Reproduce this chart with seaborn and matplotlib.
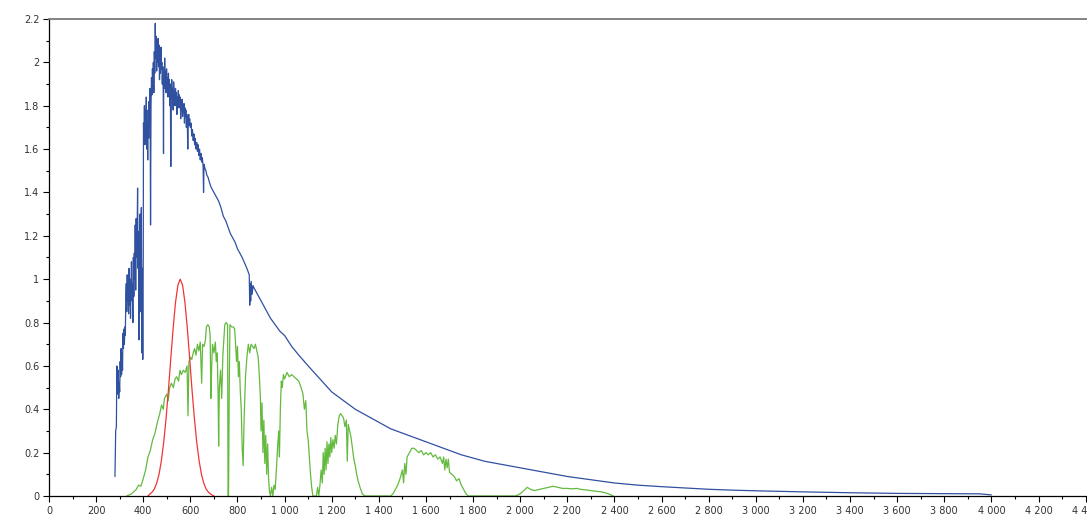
import numpy as np
import pandas as pd
import matplotlib
matplotlib.use("Agg")
import matplotlib.pyplot as plt
import seaborn as sns
from matplotlib.ticker import MultipleLocator, FuncFormatter

# ====================== DATA ======================
# blue: solar spectrum outside the atmosphere
blue_nm = [280, 283, 286, 288, 290, 292, 294, 296, 298, 300, 302, 304, 306, 308, 310, 312, 314, 316, 318, 320,
           322, 324, 326, 328, 330, 332, 334, 336, 338, 340, 342, 344, 346, 348, 350, 352, 354, 356, 358, 360,
           362, 364, 366, 368, 370, 372, 374, 376, 378, 380, 382, 384, 386, 388, 390, 392, 394, 396, 398, 400,
           401, 403, 405, 407, 409, 411, 413, 415, 417, 419, 421, 423, 425, 427, 429, 431, 433, 435, 437, 439,
           441, 443, 445, 447, 449, 451, 453, 455, 457, 459, 461, 463, 465, 467, 469, 471, 473, 475, 477, 479,
           481, 483, 485, 486, 487, 489, 491, 493, 495, 497, 499, 501, 503, 505, 507, 509, 511, 513, 515, 517,
           519, 521, 523, 525, 527, 529, 531, 533, 535, 537, 539, 541, 543, 545, 547, 549, 551, 553, 555, 557,
           559, 561, 563, 565, 567, 569, 571, 573, 575, 577, 579, 581, 583, 585, 587, 589, 591, 593, 595, 597,
           600, 603, 606, 609, 612, 615, 618, 621, 624, 627, 630, 633, 636, 639, 642, 645, 648, 651, 654, 656,
           658, 662, 666, 670, 675, 680, 686, 690, 695, 700, 710, 720, 730, 740, 750, 760, 770, 780, 790, 800,
           820, 840, 850, 852, 854, 856, 858, 862, 866, 870, 880, 900, 920, 940, 960, 980, 1000, 1030, 1060, 1100,
           1150, 1200, 1250, 1300, 1350, 1400, 1450, 1500, 1550, 1600, 1650, 1700, 1750, 1800, 1850, 1900, 1950,
           2000, 2100, 2200, 2300, 2400, 2500, 2600, 2700, 2800, 2900, 3000, 3200, 3400, 3600, 3800, 3950, 4000]
blue_val = [0.09, 0.30, 0.32, 0.60, 0.55, 0.47, 0.58, 0.45, 0.52, 0.48, 0.62, 0.55, 0.68, 0.56, 0.66, 0.58, 0.75, 0.68, 0.77, 0.70,
            0.78, 0.74, 0.92, 0.98, 0.85, 1.02, 0.90, 0.96, 0.84, 1.05, 0.88, 1.00, 0.82, 0.95, 1.08, 0.90, 0.98, 0.80, 1.10, 0.92,
            1.12, 1.00, 1.25, 0.95, 1.28, 1.10, 1.20, 1.42, 1.05, 1.22, 0.72, 1.15, 1.30, 0.85, 1.25, 1.33, 0.66, 1.05, 0.63, 1.10,
            1.72, 1.65, 1.80, 1.62, 1.78, 1.70, 1.84, 1.60, 1.72, 1.55, 1.78, 1.65, 1.82, 1.70, 1.88, 1.25, 1.80, 1.93, 1.85, 1.97,
            1.90, 2.00, 1.86, 2.05, 1.95, 2.18, 2.02, 2.12, 1.96, 2.10, 2.00, 2.11, 1.98, 2.08, 1.92, 2.05, 1.95, 2.07, 1.97, 2.00,
            1.90, 1.98, 1.85, 1.58, 1.93, 1.88, 2.02, 1.90, 1.96, 1.86, 1.97, 1.88, 1.93, 1.84, 1.95, 1.87, 1.92, 1.80, 1.90, 1.52,
            1.85, 1.92, 1.83, 1.88, 1.78, 1.91, 1.85, 1.87, 1.80, 1.88, 1.82, 1.86, 1.76, 1.84, 1.80, 1.87, 1.79, 1.85, 1.81, 1.84,
            1.74, 1.82, 1.78, 1.83, 1.75, 1.80, 1.77, 1.81, 1.72, 1.79, 1.75, 1.78, 1.70, 1.76, 1.73, 1.60, 1.72, 1.76, 1.71, 1.74,
            1.70, 1.72, 1.66, 1.69, 1.64, 1.67, 1.62, 1.65, 1.60, 1.63, 1.59, 1.62, 1.57, 1.60, 1.55, 1.58, 1.54, 1.56, 1.52, 1.40,
            1.53, 1.51, 1.50, 1.48, 1.47, 1.45, 1.43, 1.42, 1.41, 1.40, 1.38, 1.36, 1.33, 1.29, 1.27, 1.24, 1.21, 1.19, 1.17, 1.14,
            1.10, 1.05, 1.02, 0.88, 0.98, 0.90, 0.99, 0.93, 0.97, 0.96, 0.94, 0.90, 0.86, 0.82, 0.79, 0.76, 0.74, 0.69, 0.65, 0.60,
            0.54, 0.48, 0.44, 0.40, 0.37, 0.34, 0.31, 0.29, 0.27, 0.25, 0.23, 0.21, 0.19, 0.175, 0.16, 0.15, 0.14,
            0.13, 0.11, 0.09, 0.075, 0.06, 0.05, 0.043, 0.037, 0.031, 0.027, 0.024, 0.019, 0.015, 0.012, 0.011, 0.01, 0.005]

# green: spectrum at ground level
green_nm = [330, 350, 370, 380, 390, 400, 410, 420, 430, 440, 450, 460, 470, 478, 485, 490, 500, 506, 512, 520,
            528, 535, 542, 550, 556, 562, 570, 578, 586, 590, 594, 600, 606, 612, 618, 624, 630, 636, 642, 648,
            652, 658, 664, 668, 674, 680, 684, 687, 690, 694, 700, 706, 710, 714, 718, 720, 723, 728, 733, 738,
            742, 746, 752, 758, 760, 762, 765, 768, 775, 782, 788, 792, 796, 800, 804, 808, 812, 816, 820, 824,
            828, 834, 840, 846, 852, 858, 864, 870, 876, 882, 888, 893, 897, 900, 904, 908, 912, 916, 920, 924,
            928, 932, 936, 940, 945, 950, 955, 960, 965, 970, 975, 978, 982, 986, 990, 995, 1000, 1010, 1020, 1030,
            1040, 1050, 1060, 1070, 1078, 1084, 1090, 1095, 1100, 1105, 1110, 1115, 1120, 1135, 1140, 1145, 1150, 1155, 1160, 1164,
            1168, 1172, 1176, 1180, 1184, 1188, 1192, 1196, 1200, 1205, 1210, 1215, 1220, 1226, 1232, 1238, 1244, 1250, 1256, 1262,
            1266, 1270, 1276, 1282, 1288, 1294, 1300, 1306, 1312, 1320, 1330, 1340, 1450, 1460, 1470, 1480, 1490, 1500, 1505, 1510,
            1515, 1520, 1530, 1540, 1550, 1560, 1570, 1580, 1590, 1600, 1610, 1620, 1630, 1640, 1650, 1660, 1670, 1675, 1680, 1685,
            1690, 1695, 1700, 1710, 1720, 1730, 1740, 1750, 1760, 1770, 1780, 1980, 2000, 2020, 2030, 2045, 2060, 2080, 2100, 2120,
            2140, 2160, 2180, 2200, 2220, 2240, 2260, 2280, 2300, 2320, 2340, 2360, 2380, 2395]
green_val = [0.0, 0.01, 0.03, 0.05, 0.045, 0.08, 0.12, 0.18, 0.21, 0.26, 0.29, 0.34, 0.38, 0.42, 0.40, 0.45, 0.47, 0.44, 0.50, 0.52,
             0.50, 0.54, 0.55, 0.53, 0.58, 0.56, 0.58, 0.57, 0.60, 0.37, 0.62, 0.64, 0.63, 0.66, 0.68, 0.65, 0.70, 0.67, 0.71, 0.52,
             0.70, 0.69, 0.72, 0.78, 0.79, 0.78, 0.74, 0.45, 0.58, 0.70, 0.66, 0.71, 0.62, 0.66, 0.45, 0.23, 0.50, 0.58, 0.45, 0.65,
             0.72, 0.79, 0.80, 0.79, 0.0, 0.0, 0.50, 0.79, 0.78, 0.78, 0.77, 0.70, 0.62, 0.69, 0.55, 0.62, 0.48, 0.40, 0.22, 0.14,
             0.35, 0.55, 0.64, 0.70, 0.66, 0.70, 0.69, 0.68, 0.70, 0.67, 0.64, 0.55, 0.46, 0.30, 0.43, 0.20, 0.35, 0.15, 0.28, 0.10,
             0.24, 0.08, 0.02, 0.0, 0.04, 0.0, 0.05, 0.03, 0.12, 0.22, 0.30, 0.18, 0.40, 0.53, 0.50, 0.56, 0.54, 0.57, 0.55, 0.56,
             0.55, 0.54, 0.53, 0.50, 0.47, 0.40, 0.44, 0.30, 0.26, 0.18, 0.10, 0.04, 0.0, 0.0, 0.04, 0.0, 0.05, 0.12, 0.06, 0.20,
             0.10, 0.22, 0.12, 0.25, 0.15, 0.24, 0.18, 0.27, 0.20, 0.26, 0.22, 0.28, 0.24, 0.33, 0.37, 0.38, 0.37, 0.36, 0.32, 0.35,
             0.16, 0.33, 0.30, 0.27, 0.22, 0.17, 0.14, 0.10, 0.07, 0.04, 0.01, 0.0, 0.0, 0.01, 0.03, 0.05, 0.08, 0.12, 0.06, 0.15,
             0.10, 0.18, 0.20, 0.22, 0.22, 0.21, 0.20, 0.21, 0.19, 0.20, 0.19, 0.20, 0.18, 0.19, 0.17, 0.18, 0.15, 0.18, 0.12, 0.17,
             0.13, 0.17, 0.11, 0.10, 0.09, 0.07, 0.08, 0.05, 0.03, 0.01, 0.0, 0.0, 0.01, 0.03, 0.04, 0.03, 0.025, 0.03, 0.035, 0.04,
             0.045, 0.04, 0.035, 0.035, 0.033, 0.035, 0.03, 0.028, 0.025, 0.022, 0.02, 0.015, 0.008, 0.0]

# red: eye sensitivity
red_nm = [420, 427, 437, 447, 457, 467, 477, 487, 497, 507, 517, 527, 537, 547, 557,
          567, 577, 587, 597, 607, 617, 627, 637, 647, 657, 667, 677, 687, 700]
red_val = [0.0, 0.008, 0.017, 0.032, 0.059, 0.10, 0.163, 0.249, 0.36, 0.49, 0.635, 0.775, 0.893, 0.972, 1.0,
           0.972, 0.893, 0.775, 0.635, 0.49, 0.36, 0.249, 0.163, 0.10, 0.059, 0.032, 0.017, 0.008, 0.0]

BLUE, GREEN, RED = "#3050A0", "#63BA3F", "#F03535"

# ====================== PLOT =======================
sns.set_style("white")
plt.rcParams["font.family"] = ["DejaVu Sans"]

fig = plt.figure(figsize=(10.87, 5.17), dpi=100)
ax = fig.add_axes([49 / 1087, 21 / 517, 1039 / 1087, 477 / 517])

curves = [(blue_nm, blue_val, BLUE), (green_nm, green_val, GREEN), (red_nm, red_val, RED)]
for nm, val, col in curves:
    d = pd.DataFrame({"nm": nm, "val": val})
    sns.lineplot(data=d, x="nm", y="val", ax=ax, color=col, lw=0.9,
                 estimator=None, sort=False, legend=False)

ax.set_xlim(0, 4410)
ax.set_ylim(0, 2.2)
ax.set_xlabel("")
ax.set_ylabel("")

ax.xaxis.set_major_locator(MultipleLocator(200))
ax.xaxis.set_minor_locator(MultipleLocator(100))
ax.yaxis.set_major_locator(MultipleLocator(0.2))
ax.yaxis.set_minor_locator(MultipleLocator(0.1))
ax.xaxis.set_major_formatter(FuncFormatter(lambda v, p: f"{int(round(v)):,}".replace(",", " ")))
ax.yaxis.set_major_formatter(FuncFormatter(lambda v, p: f"{round(v, 1):g}"))

ax.tick_params(which="major", direction="out", length=4, width=0.8, colors="black",
               labelsize=7, labelcolor="#333333", pad=3)
ax.tick_params(which="minor", direction="out", length=2.5, width=0.8, colors="black")
ax.tick_params(bottom=True, left=True, which="both")

for s in ["left", "bottom"]:
    ax.spines[s].set_color("black")
    ax.spines[s].set_linewidth(0.9)
ax.spines["top"].set_color("#7a7a7a")
ax.spines["top"].set_linewidth(1.3)
ax.spines["right"].set_visible(False)

fig.savefig("out.png", dpi=100)
